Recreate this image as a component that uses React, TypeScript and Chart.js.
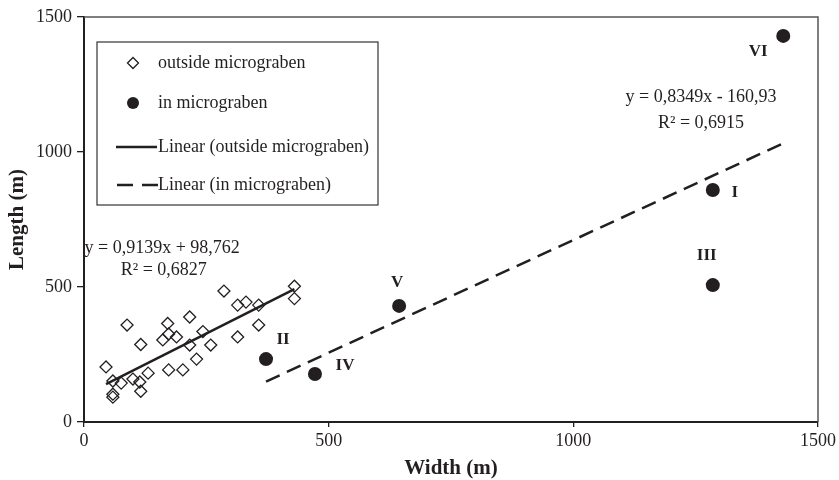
import React, { useEffect, useRef } from "react";
import { Chart, registerables } from "chart.js";

Chart.register(...registerables);

// ---- data ----
const outsideWidth = [45, 59, 76, 59, 59, 88, 100, 114, 116, 116, 131, 161, 171, 173, 173, 189, 202, 216, 216, 230, 243, 259, 286, 314, 314, 331, 357, 357, 430, 430];
const outsideLength = [204, 152, 144, 103, 92, 359, 159, 148, 114, 287, 181, 304, 365, 326, 193, 315, 193, 389, 285, 233, 335, 285, 485, 433, 315, 444, 433, 359, 503, 457];
const inWidth = [372, 472, 644, 1285, 1285, 1429];
const inLength = [233, 178, 430, 859, 507, 1430];
const inLabels = ["II", "IV", "V", "I", "III", "VI"];

const outsideSlope = 0.9139;
const outsideIntercept = 98.762;
const inSlope = 0.8349;
const inIntercept = -160.93;

const xTicks = [0, 500, 1000, 1500];
const yTicks = [0, 500, 1000, 1500];

const legendLabels = [
  "outside micrograben",
  "in micrograben",
  "Linear (outside micrograben)",
  "Linear (in micrograben)",
];
const eqOutside = ["y = 0,9139x + 98,762", "R² = 0,6827"];
const eqIn = ["y = 0,8349x - 160,93", "R² = 0,6915"];

// ---- styling / placement (not data) ----
const FONT = "'Liberation Serif', 'Times New Roman', serif";
const INK = "#231f20";
const labelOffsets: [number, number][] = [
  [17, -19],
  [30, -8],
  [-2, -23],
  [22, 3],
  [-6, -30],
  [-25, 16],
];
// annotation anchors in data coordinates
const eqOutsideAnchor = { line1: { x: 1, y: 644, align: "left" }, line2: { x: 163, y: 563, align: "center" } };
const eqInAnchor = { line1: { x: 1261, y: 1204, align: "center" }, line2: { x: 1261, y: 1107, align: "center" } };

function trend(xs: number[], slope: number, intercept: number) {
  const lo = Math.min(...xs);
  const hi = Math.max(...xs);
  return [
    { x: lo, y: slope * lo + intercept },
    { x: hi, y: slope * hi + intercept },
  ];
}

const overlayPlugin = {
  id: "overlay",
  afterDraw(chart: any) {
    const ctx: CanvasRenderingContext2D = chart.ctx;
    const ca = chart.chartArea;
    const xs = chart.scales.x;
    const ys = chart.scales.y;
    ctx.save();

    // frame (top and right)
    ctx.strokeStyle = "#555";
    ctx.lineWidth = 1.5;
    ctx.beginPath();
    ctx.moveTo(ca.left, ca.top);
    ctx.lineTo(ca.right, ca.top);
    ctx.lineTo(ca.right, ca.bottom);
    ctx.stroke();

    // point labels
    ctx.fillStyle = INK;
    ctx.font = `bold 17px ${FONT}`;
    ctx.textAlign = "center";
    ctx.textBaseline = "middle";
    inLabels.forEach((lab, i) => {
      const px = xs.getPixelForValue(inWidth[i]);
      const py = ys.getPixelForValue(inLength[i]);
      const [dx, dy] = labelOffsets[i];
      ctx.fillText(lab, px + dx, py + dy);
    });

    // equations
    ctx.font = `18px ${FONT}`;
    const drawEq = (texts: string[], anchor: any) => {
      const a1 = anchor.line1;
      const a2 = anchor.line2;
      ctx.textAlign = a1.align;
      ctx.fillText(texts[0], xs.getPixelForValue(a1.x), ys.getPixelForValue(a1.y));
      ctx.textAlign = a2.align;
      ctx.fillText(texts[1], xs.getPixelForValue(a2.x), ys.getPixelForValue(a2.y));
    };
    drawEq(eqOutside, eqOutsideAnchor);
    drawEq(eqIn, eqInAnchor);

    // legend box
    const bx = ca.left + 13;
    const by = ca.top + 25;
    const bw = 281;
    const bh = 163;
    ctx.fillStyle = "#fff";
    ctx.fillRect(bx, by, bw, bh);
    ctx.strokeStyle = "#333";
    ctx.lineWidth = 1.2;
    ctx.strokeRect(bx, by, bw, bh);

    const rows = [by + 21, by + 61, by + 105, by + 143];
    const symX = bx + 36;
    const textX = bx + 61;
    ctx.fillStyle = INK;
    ctx.strokeStyle = INK;
    // diamond
    ctx.lineWidth = 1.3;
    ctx.beginPath();
    ctx.moveTo(symX - 5.5, rows[0]);
    ctx.lineTo(symX, rows[0] - 5.5);
    ctx.lineTo(symX + 5.5, rows[0]);
    ctx.lineTo(symX, rows[0] + 5.5);
    ctx.closePath();
    ctx.stroke();
    // circle
    ctx.beginPath();
    ctx.arc(symX, rows[1], 6, 0, Math.PI * 2);
    ctx.fill();
    // solid line
    ctx.lineWidth = 2.5;
    ctx.beginPath();
    ctx.moveTo(bx + 19, rows[2]);
    ctx.lineTo(bx + 60, rows[2]);
    ctx.stroke();
    // dashed line
    ctx.setLineDash([16, 9]);
    ctx.beginPath();
    ctx.moveTo(bx + 20, rows[3]);
    ctx.lineTo(bx + 61, rows[3]);
    ctx.stroke();
    ctx.setLineDash([]);

    ctx.font = `18px ${FONT}`;
    ctx.textAlign = "left";
    ctx.textBaseline = "middle";
    legendLabels.forEach((t, i) => {
      ctx.fillText(t, textX, rows[i]);
    });

    ctx.restore();
  },
};

export default function App() {
  const ref = useRef<HTMLCanvasElement | null>(null);
  useEffect(() => {
    if (!ref.current) return;
    const tickFont = { family: FONT, size: 18 };
    const titleFont = { family: FONT, size: 21, weight: "bold" as const, lineHeight: 1 };
    const plain = (v: any) => String(v);
    const chart = new Chart(ref.current, {
      type: "scatter",
      data: {
        datasets: [
          {
            label: legendLabels[2],
            data: trend(outsideWidth, outsideSlope, outsideIntercept),
            showLine: true,
            borderColor: INK,
            borderWidth: 2.5,
            pointRadius: 0,
            order: 1,
          } as any,
          {
            label: legendLabels[3],
            data: trend(inWidth, inSlope, inIntercept),
            showLine: true,
            borderColor: INK,
            borderWidth: 2.5,
            borderDash: [15, 8],
            pointRadius: 0,
            order: 2,
          } as any,
          {
            label: legendLabels[0],
            data: outsideWidth.map((x, i) => ({ x, y: outsideLength[i] })),
            pointStyle: "rectRot",
            pointRadius: 6,
            borderColor: INK,
            borderWidth: 1.3,
            backgroundColor: "rgba(0,0,0,0)",
            order: 3,
          },
          {
            label: legendLabels[1],
            data: inWidth.map((x, i) => ({ x, y: inLength[i] })),
            pointStyle: "circle",
            pointRadius: 7,
            borderColor: INK,
            backgroundColor: INK,
            borderWidth: 0,
            order: 4,
          },
        ],
      },
      options: {
        animation: false,
        responsive: true,
        maintainAspectRatio: false,
        layout: { padding: { top: 17, right: 21, left: 0, bottom: 0 } },
        plugins: { legend: { display: false }, tooltip: { enabled: false } },
        scales: {
          x: {
            type: "linear",
            min: 0,
            max: 1500,
            afterBuildTicks: (s: any) => {
              s.ticks = xTicks.map((v) => ({ value: v }));
            },
            afterFit: (s: any) => {
              s.height = 58;
            },
            ticks: { font: tickFont, color: INK, padding: 3, callback: plain },
            grid: { drawOnChartArea: false, drawTicks: true, tickLength: 5, color: INK, lineWidth: 1.3 },
            border: { display: true, color: INK, width: 2 },
            title: { display: true, text: "Width (m)", font: titleFont, color: INK, padding: { top: 0, bottom: 1 } },
          },
          y: {
            type: "linear",
            min: 0,
            max: 1500,
            afterBuildTicks: (s: any) => {
              s.ticks = yTicks.map((v) => ({ value: v }));
            },
            afterFit: (s: any) => {
              s.width = 84;
            },
            ticks: { font: tickFont, color: INK, padding: 5, callback: plain },
            grid: { drawOnChartArea: false, drawTicks: true, tickLength: 7, color: INK, lineWidth: 1.3 },
            border: { display: true, color: INK, width: 2 },
            title: { display: true, text: "Length (m)", font: titleFont, color: INK, padding: { top: 7, bottom: 0 } },
          },
        },
      },
      plugins: [overlayPlugin],
    });
    return () => chart.destroy();
  }, []);
  return (
    <div style={{ position: "absolute", left: 0, top: 0, width: 839, height: 480, background: "#fff" }}>
      <canvas ref={ref} />
    </div>
  );
}
